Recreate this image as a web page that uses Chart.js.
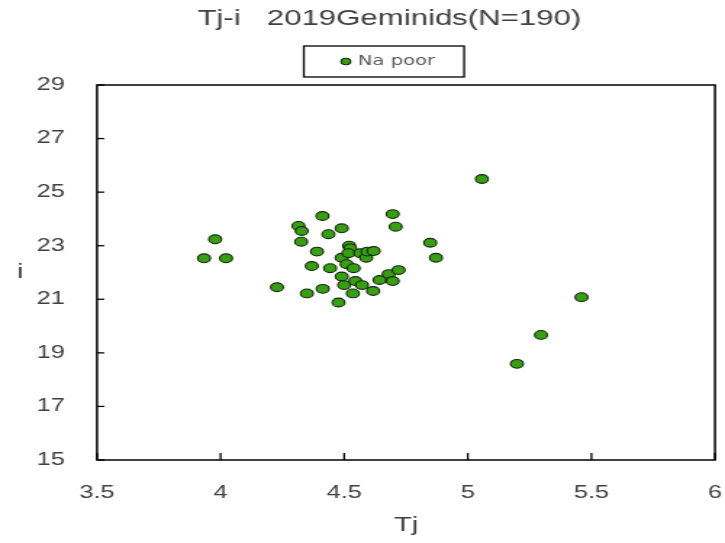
<!DOCTYPE html>
<html>
<head>
<meta charset="utf-8">
<script src="https://cdn.jsdelivr.net/npm/chart.js@4.4.1/dist/chart.umd.min.js"></script>
<style>
  html, body { margin: 0; padding: 0; background: #fff; overflow: hidden; }
  #wrap { width: 725px; height: 543px; overflow: hidden; }
  #c { display: block; transform: scaleX(1.45); transform-origin: 0 0; }
</style>
</head>
<body>
<div id="wrap"><canvas id="c" width="500" height="543"></canvas></div>
<script>
// ---- data ----
const chartTitle = 'Tj-i   2019Geminids(N=190)';
const seriesName = 'Na poor';
const xAxisTitle = 'Tj';
const yAxisTitle = 'i';
const xTickRange = [3.5, 6, 0.5];   // min, max, step
const yTickRange = [15, 29, 2];     // min, max, step
const tjValues = [3.933,3.978,4.022,4.228,4.315,4.328,4.326,4.349,4.369,4.39,4.412,4.413,4.436,4.443,4.477,4.49,4.49,4.49,4.5,4.51,4.52,4.524,4.517,4.538,4.535,4.545,4.565,4.572,4.589,4.594,4.619,4.617,4.643,4.68,4.696,4.72,4.696,4.708,4.848,4.871,5.057,5.46,5.296,5.199];
const iValues  = [22.53,23.24,22.53,21.45,23.74,23.55,23.15,21.22,22.24,22.78,24.11,21.39,23.43,22.16,20.88,23.65,22.55,21.85,21.53,22.31,23.0,22.9,22.72,22.16,21.22,21.68,22.72,21.53,22.55,22.78,22.8,21.31,21.72,21.94,21.68,22.09,24.18,23.71,23.11,22.55,25.49,21.08,19.67,18.59];

const points = tjValues.map((x, k) => ({ x: x, y: iValues[k] }));

const decorPlugin = {
  id: 'decor',
  beforeDatasetsDraw(chart) {
    const ctx = chart.ctx;
    const a = chart.chartArea;
    ctx.save();
    ctx.strokeStyle = '#000';
    // inward tick marks
    ctx.lineWidth = 1.3;
    const xs = chart.scales.x, ys = chart.scales.y;
    xs.ticks.forEach(t => {
      const px = xs.getPixelForValue(t.value);
      ctx.beginPath(); ctx.moveTo(px, a.bottom); ctx.lineTo(px, a.bottom - 7); ctx.stroke();
    });
    ys.ticks.forEach(t => {
      const py = ys.getPixelForValue(t.value);
      ctx.beginPath(); ctx.moveTo(a.left, py); ctx.lineTo(a.left + 5, py); ctx.stroke();
    });
    // frame
    ctx.lineWidth = 1.5;
    ctx.strokeRect(a.left, a.top, a.right - a.left, a.bottom - a.top);
    ctx.restore();
  },
  afterDraw(chart) {
    const ctx = chart.ctx;
    const a = chart.chartArea;
    ctx.save();
    // upright y-axis title
    ctx.fillStyle = '#404040';
    ctx.font = '20px "Liberation Sans"';
    ctx.textAlign = 'center';
    ctx.textBaseline = 'middle';
    ctx.fillText(yAxisTitle, 14, (a.top + a.bottom) / 2);
    // legend border
    const lg = chart.legend;
    if (lg && lg.legendHitBoxes && lg.legendHitBoxes.length) {
      const hb = lg.legendHitBoxes[0];
      const cy = hb.top + hb.height / 2;
      ctx.strokeStyle = '#000';
      ctx.lineWidth = 1.3;
      const left = hb.left - 27.5, right = hb.left + hb.width + 20;
      ctx.strokeRect(left, cy - 15.5, right - left, 31);
    }
    ctx.restore();
  }
};

new Chart(document.getElementById('c'), {
  type: 'scatter',
  data: {
    datasets: [{
      label: seriesName,
      data: points,
      backgroundColor: '#35a10f',
      borderColor: '#1a2416',
      borderWidth: 1.1,
      pointRadius: 4.4,
      pointHoverRadius: 4.4
    }]
  },
  options: {
    responsive: false,
    devicePixelRatio: 1,
    animation: false,
    layout: { padding: { left: 44, right: 6.9, top: 0, bottom: 0 } },
    plugins: {
      title: {
        display: true,
        text: chartTitle,
        color: '#404040',
        font: { family: '"Liberation Sans"', size: 21.5, weight: 'normal' },
        padding: { top: 6.6, bottom: 12.35 }
      },
      legend: {
        display: true,
        position: 'top',
        labels: {
          usePointStyle: true,
          pointStyle: 'circle',
          boxWidth: 3,
          boxHeight: 4.6,
          padding: 10,
          color: '#595959',
          font: { family: '"DejaVu Sans"', size: 13.5 }
        }
      },
      tooltip: { enabled: false }
    },
    scales: {
      x: {
        type: 'linear',
        position: 'bottom',
        min: xTickRange[0], max: xTickRange[1],
        afterFit: s => { s.height = 83; },
        ticks: { stepSize: xTickRange[2], padding: 0, color: '#404040',
                 callback: v => String(v),
                 font: { family: '"Liberation Sans"', size: 17.5 } },
        grid: { display: false, drawTicks: true, tickLength: 23 },
        border: { display: false },
        title: { display: true, text: xAxisTitle, color: '#404040',
                 font: { family: '"Liberation Sans"', size: 20 }, padding: { top: 0, bottom: 6 } }
      },
      xTop: {
        type: 'linear',
        position: 'top',
        display: true,
        afterFit: s => { s.height = 6.75; },
        ticks: { display: false },
        grid: { display: false, drawTicks: false },
        border: { display: false }
      },
      y: {
        type: 'linear',
        min: yTickRange[0], max: yTickRange[1],
        afterFit: s => { s.width = 22.9; },
        ticks: { stepSize: yTickRange[2], mirror: true, padding: -41.6, color: '#404040',
                 callback: v => String(v),
                 font: { family: '"Liberation Sans"', size: 17.5 } },
        grid: { display: false, drawTicks: false },
        border: { display: false }
      }
    }
  },
  plugins: [decorPlugin]
});
</script>
</body>
</html>
